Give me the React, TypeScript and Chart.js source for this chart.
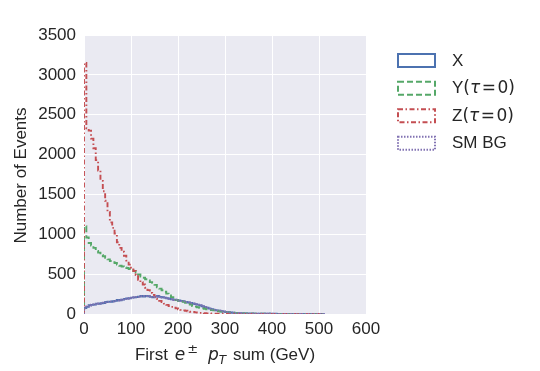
import React, { useEffect, useRef } from 'react';
import { Chart, registerables } from 'chart.js';

Chart.register(...registerables);

const BIN_WIDTH = 5;

const X_VALUES = [
  75, 90, 110, 115, 118, 130, 128, 135, 138, 150,
  155, 152, 160, 165, 175, 172, 180, 190, 195, 198,
  205, 208, 212, 218, 225, 220, 228, 222, 215, 208,
  218, 225, 215, 210, 205, 198, 192, 185, 180, 176,
  170, 165, 158, 152, 145, 138, 130, 124, 118, 108,
  98, 88, 78, 68, 60, 52, 46, 40, 35, 30,
  26, 22, 19, 16, 14, 12, 10, 8, 7, 6,
  6, 5, 5, 4, 4, 4, 3, 3, 3, 3,
  2, 3, 2, 2, 2, 1, 2, 1, 1, 2,
  1, 1, 1, 1, 0, 1, 1, 0, 1, 1, 0, 1,
];

const Y_VALUES = [
  1100, 960, 890, 860, 830, 790, 770, 740, 725, 705,
  685, 665, 650, 640, 620, 605, 595, 585, 578, 565,
  550, 540, 520, 495, 470, 455, 435, 420, 400, 390,
  365, 335, 318, 298, 280, 255, 232, 212, 192, 176,
  165, 156, 152, 140, 128, 118, 100, 92, 85, 78,
  72, 66, 60, 55, 50, 45, 40, 35, 30, 27,
  24, 21, 18, 16, 14, 12, 10, 9, 8, 7,
  7, 6, 5, 5, 4, 4, 3, 3, 3, 2,
  2, 2, 1, 2, 1, 1, 1, 1, 0, 1,
  1, 0, 1, 0, 0, 1, 0, 0, 0, 0, 1, 0,
];

const Z_VALUES = [
  3150, 2330, 2300, 2200, 2080, 1930, 1800, 1670, 1540, 1420,
  1280, 1150, 1080, 1010, 900, 830, 780, 730, 670, 620,
  580, 540, 490, 430, 400, 370, 330, 300, 265, 240,
  215, 190, 165, 150, 130, 115, 100, 90, 78, 70,
  60, 52, 45, 40, 33, 29, 25, 20, 17, 14,
  11, 9, 8, 6, 5, 5, 4, 3, 3, 2,
  2, 2, 1, 1, 2, 1, 1, 0, 1, 1,
  0, 1, 0, 0, 1, 0, 0, 0, 1, 0,
  0, 0, 1, 0, 0, 0, 0, 1, 0, 0,
  0, 1, 0, 0, 0, 0, 1, 0, 0, 0, 0, 1,
];

const SM_VALUES = [
  70, 95, 105, 118, 122, 125, 132, 130, 142, 145,
  152, 158, 156, 168, 170, 178, 184, 186, 192, 200,
  202, 210, 215, 214, 222, 225, 224, 226, 212, 212,
  214, 222, 218, 206, 208, 200, 190, 188, 176, 178,
  168, 162, 160, 150, 146, 135, 132, 120, 115, 110,
  95, 90, 75, 70, 58, 54, 45, 42, 34, 31,
  25, 23, 18, 17, 13, 12, 11, 8, 8, 6,
  5, 6, 4, 5, 4, 3, 4, 3, 2, 3,
  3, 2, 2, 2, 1, 2, 1, 2, 1, 1,
  1, 1, 0, 1, 1, 1, 0, 1, 1, 0, 1, 1,
];

const X_MIN = 0;
const X_MAX = 600;
const X_STEP = 100;
const Y_MIN = 0;
const Y_MAX = 3500;
const Y_STEP = 500;

const TEXT_COLOR = '#262626';
const SANS = '"Liberation Sans", Arial, sans-serif';
const MATH = '"DejaVu Sans", sans-serif';

type Run = { t?: string; f?: string; dy?: number; gap?: number };

function toSteps(values: number[]) {
  const pts: { x: number; y: number }[] = [{ x: 0, y: 0 }];
  values.forEach((v, i) => pts.push({ x: i * BIN_WIDTH, y: v }));
  pts.push({ x: values.length * BIN_WIDTH, y: 0 });
  return pts;
}

function runsWidth(ctx: CanvasRenderingContext2D, runs: Run[]) {
  let w = 0;
  for (const r of runs) {
    if (r.gap) w += r.gap;
    if (r.t) {
      ctx.font = r.f as string;
      w += ctx.measureText(r.t).width;
    }
  }
  return w;
}

function drawRuns(ctx: CanvasRenderingContext2D, x: number, y: number, runs: Run[]) {
  let cx = x;
  for (const r of runs) {
    if (r.gap) cx += r.gap;
    if (r.t) {
      ctx.font = r.f as string;
      ctx.fillText(r.t, cx, y + (r.dy || 0));
      cx += ctx.measureText(r.t).width;
    }
  }
}

const SERIES = [
  { name: 'X', color: '#4C72B0', dash: [] as number[], values: X_VALUES, order: 4 },
  { name: 'Y', color: '#55A868', dash: [6, 3], values: Y_VALUES, order: 3 },
  { name: 'Z', color: '#C44E52', dash: [5, 2.5, 1.5, 2.5], values: Z_VALUES, order: 2 },
  { name: 'SM BG', color: '#8172B2', dash: [1.5, 1.5], values: SM_VALUES, order: 1 },
];

const legendLabel = (name: string): Run[] => {
  if (name === 'Y' || name === 'Z') {
    return [
      { t: name, f: `17px ${SANS}` },
      { t: '(', f: `17px ${MATH}` },
      { t: 'τ', f: `italic 17px ${MATH}` },
      { gap: 1.5, t: '=', f: `17px ${MATH}` },
      { gap: 1.5, t: '0', f: `17px ${MATH}` },
      { t: ')', f: `17px ${MATH}` },
    ];
  }
  return [{ t: name, f: `17px ${SANS}` }];
};

const decorPlugin = {
  id: 'decor',
  beforeDraw(chart: any) {
    const { ctx, chartArea } = chart;
    ctx.save();
    ctx.fillStyle = '#EAEAF2';
    ctx.fillRect(chartArea.left, chartArea.top, chartArea.right - chartArea.left, chartArea.bottom - chartArea.top);
    ctx.restore();
  },
  afterDraw(chart: any) {
    const { ctx, chartArea } = chart;
    ctx.save();
    ctx.fillStyle = TEXT_COLOR;
    ctx.textBaseline = 'alphabetic';
    ctx.textAlign = 'left';

    // x axis title
    const xt: Run[] = [
      { t: 'First ', f: `17px ${SANS}` },
      { gap: 2, t: 'e', f: `italic 17px ${MATH}` },
      { gap: 2, t: '±', f: `13px ${MATH}`, dy: -7 },
      { gap: 10, t: 'p', f: `italic 17px ${MATH}` },
      { t: 'T', f: `italic 12px ${MATH}`, dy: 4 },
      { gap: 2, t: ' sum (GeV)', f: `17px ${SANS}` },
    ];
    const cxTitle = (chartArea.left + chartArea.right) / 2;
    const w = runsWidth(ctx, xt);
    drawRuns(ctx, cxTitle - w / 2, 360, xt);

    // y axis title
    ctx.save();
    ctx.translate(21, (chartArea.top + chartArea.bottom) / 2 + 1);
    ctx.rotate(-Math.PI / 2);
    ctx.textAlign = 'center';
    ctx.textBaseline = 'middle';
    ctx.font = `17px ${SANS}`;
    ctx.fillText('Number of Events', 0, 0);
    ctx.restore();

    // legend
    const rows = [60.5, 88.2, 115.7, 143.2];
    SERIES.forEach((s, i) => {
      const cy = rows[i];
      ctx.save();
      ctx.lineWidth = 2;
      ctx.strokeStyle = s.color;
      ctx.setLineDash(s.dash);
      ctx.strokeRect(398, cy - 6.5, 37, 13);
      ctx.restore();
      ctx.fillStyle = TEXT_COLOR;
      ctx.textBaseline = 'middle';
      drawRuns(ctx, 452, cy + 0.5, legendLabel(s.name));
    });
    ctx.restore();
  },
};

export default function App() {
  const ref = useRef<HTMLCanvasElement | null>(null);

  useEffect(() => {
    if (!ref.current) return;
    const chart = new Chart(ref.current, {
      type: 'line',
      data: {
        datasets: SERIES.map((s) => ({
          label: s.name,
          data: toSteps(s.values),
          borderColor: s.color,
          borderWidth: 1.9,
          borderDash: s.dash,
          borderCapStyle: 'butt',
          pointRadius: 0,
          pointHoverRadius: 0,
          fill: false,
          stepped: 'before',
          tension: 0,
          order: s.order,
        })),
      },
      options: {
        responsive: false,
        animation: false,
        devicePixelRatio: 1,
        layout: { padding: { left: 0, right: 174, top: 35, bottom: 0 } },
        plugins: {
          legend: { display: false },
          tooltip: { enabled: false },
          title: { display: false },
        },
        events: [],
        scales: {
          x: {
            type: 'linear',
            min: X_MIN,
            max: X_MAX,
            ticks: {
              stepSize: X_STEP,
              color: TEXT_COLOR,
              font: { family: SANS, size: 17 },
              padding: 5,
              maxRotation: 0,
              callback: (v: any) => String(v),
            },
            grid: { color: '#FFFFFF', lineWidth: 1, drawTicks: false },
            border: { display: false },
            afterFit: (s: any) => {
              s.height = 57;
            },
          },
          y: {
            type: 'linear',
            min: Y_MIN,
            max: Y_MAX,
            ticks: {
              stepSize: Y_STEP,
              color: TEXT_COLOR,
              font: { family: SANS, size: 17 },
              padding: 8,
              callback: (v: any) => String(v),
            },
            grid: { color: '#FFFFFF', lineWidth: 1, drawTicks: false },
            border: { display: false },
            afterFit: (s: any) => {
              s.width = 84;
            },
          },
        },
      } as any,
      plugins: [decorPlugin],
    });
    return () => chart.destroy();
  }, []);

  return (
    <div style={{ position: 'fixed', left: 0, top: 0, width: 540, height: 371, background: '#fff' }}>
      <canvas ref={ref} width={540} height={371} style={{ width: 540, height: 371, display: 'block' }} />
    </div>
  );
}
